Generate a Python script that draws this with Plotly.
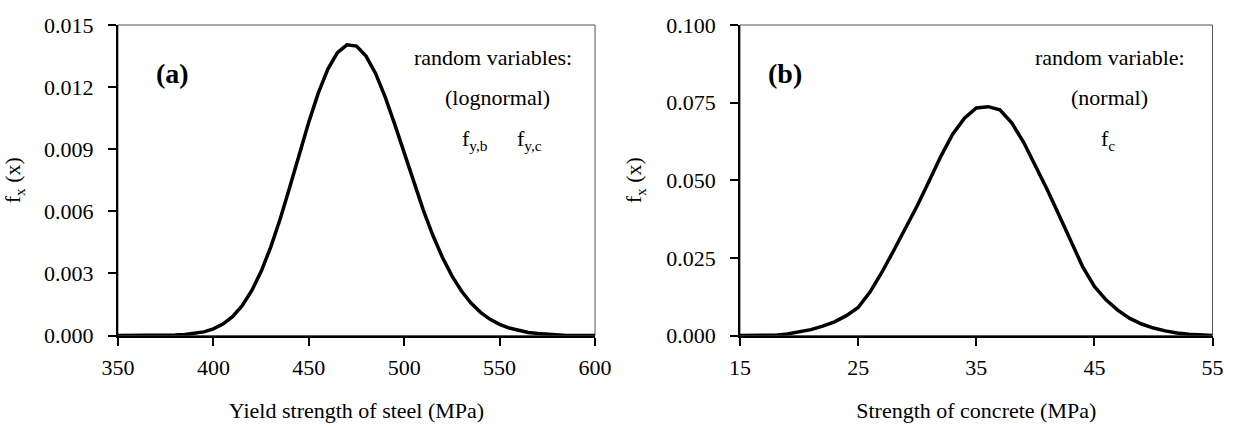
import plotly.graph_objects as go

# ---- data ----
steel_x = [350, 355, 360, 365, 370, 375, 380, 385, 390, 395, 400, 405, 410, 415, 420, 425,
           430, 435, 440, 445, 450, 455, 460, 465, 470, 475, 480, 485, 490, 495, 500, 505,
           510, 515, 520, 525, 530, 535, 540, 545, 550, 555, 560, 565, 570, 575, 580, 585,
           590, 595, 600]
steel_f = [0.0, 0.0, 0.0, 0.0, 0.0, 0.0, 0.00002, 0.000045, 0.00009, 0.000175, 0.00032,
           0.00055, 0.00091, 0.00143, 0.00215, 0.00309, 0.00426, 0.00563, 0.00716, 0.00875,
           0.01031, 0.01172, 0.01287, 0.01366, 0.01404, 0.01398, 0.01350, 0.01266, 0.01153,
           0.01021, 0.00881, 0.00740, 0.00606, 0.00484, 0.00378, 0.00288, 0.00215, 0.00157,
           0.00112, 0.00078, 0.00054, 0.00036, 0.00024, 0.00015, 0.0001, 0.00006, 0.00003,
           0.0, 0.0, 0.0, 0.0]

concrete_x = list(range(15, 56))
concrete_f = [0.0, 0.0, 0.0, 0.0001, 0.0005, 0.0012, 0.0019, 0.0030, 0.0044, 0.0064,
              0.0090, 0.0140, 0.0203, 0.0273, 0.0345, 0.0418, 0.0497, 0.0577, 0.0648, 0.0700,
              0.0733, 0.0737, 0.0727, 0.0685, 0.0623, 0.0548, 0.0470, 0.0388, 0.0303, 0.0222,
              0.0158, 0.0114, 0.0081, 0.0055, 0.0037, 0.0024, 0.0015, 0.0008, 0.0004, 0.0001,
              0.0]

steel_ticks = [350, 400, 450, 500, 550, 600]
steel_yticks = [0.000, 0.003, 0.006, 0.009, 0.012, 0.015]
concrete_ticks = [15, 25, 35, 45, 55]
concrete_yticks = [0.000, 0.025, 0.050, 0.075, 0.100]

FONT = "Liberation Serif"

fig = go.Figure()
fig.add_trace(go.Scatter(x=steel_x, y=steel_f, mode="lines",
                         line=dict(color="black", width=3.5), xaxis="x", yaxis="y",
                         showlegend=False, hoverinfo="skip"))
fig.add_trace(go.Scatter(x=concrete_x, y=concrete_f, mode="lines",
                         line=dict(color="black", width=3.5), xaxis="x2", yaxis="y2",
                         showlegend=False, hoverinfo="skip"))

ydom = [0.2161, 0.9416]
common_x = dict(showgrid=False, zeroline=False, showline=True, linecolor="black", linewidth=2,
                ticks="outside", ticklen=8, tickwidth=1.5, tickcolor="black",
                tickfont=dict(family=FONT, size=22, color="black"),
                ticklabelstandoff=3, automargin=False)
common_y = dict(showgrid=False, zeroline=False, showline=True, linecolor="black", linewidth=2,
                ticks="outside", ticklen=8, tickwidth=1.5, tickcolor="black",
                tickfont=dict(family=FONT, size=22, color="black"),
                ticklabelstandoff=10, tickformat=".3f", automargin=False)

fig.update_layout(
    width=1234, height=428,
    margin=dict(l=0, r=0, t=0, b=0, autoexpand=False),
    paper_bgcolor="white", plot_bgcolor="white",
    font=dict(family=FONT, size=22, color="black"),
    xaxis=dict(domain=[0.0956, 0.4822], range=[350, 600], tickvals=steel_ticks,
               anchor="y",
               title=dict(text="Yield strength of steel (MPa)", standoff=24,
                          font=dict(family=FONT, size=22)), **common_x),
    yaxis=dict(domain=ydom, range=[0, 0.015], tickvals=steel_yticks, anchor="x",
               title=dict(text="f<sub>x</sub> (x)", standoff=18,
                          font=dict(family=FONT, size=22)), **common_y),
    xaxis2=dict(domain=[0.5997, 0.9826], range=[15, 55], tickvals=concrete_ticks,
                anchor="y2",
                title=dict(text="Strength of concrete (MPa)", standoff=24,
                           font=dict(family=FONT, size=22)), **common_x),
    yaxis2=dict(domain=ydom, range=[0, 0.1], tickvals=concrete_yticks, anchor="x2",
                title=dict(text="f<sub>x</sub> (x)", standoff=18,
                           font=dict(family=FONT, size=22)), **common_y),
)

# thin grey box around each plot area
for xr, yr in (("x domain", "y domain"), ("x2 domain", "y2 domain")):
    fig.add_shape(type="rect", xref=xr, yref=yr, x0=0, x1=1, y0=0, y1=1,
                  line=dict(color="#555555", width=1), layer="below")

ann = []
def add(text, xref, yref, x, y, size=22, bold=False):
    ann.append(dict(text=f"<b>{text}</b>" if bold else text, xref=xref, yref=yref,
                    x=x, y=y, showarrow=False, xanchor="center", yanchor="middle",
                    font=dict(family=FONT, size=size, color="black")))

add("(a)", "x domain", "y domain", 0.114, 0.843, size=28, bold=True)
add("random variables:", "x domain", "y domain", 0.786, 0.894)
add("(lognormal)", "x domain", "y domain", 0.795, 0.768)
add("f<sub>y,b</sub>", "x domain", "y domain", 0.749, 0.63)
add("f<sub>y,c</sub>", "x domain", "y domain", 0.863, 0.63)

add("(b)", "x2 domain", "y2 domain", 0.095, 0.843, size=28, bold=True)
add("random variable:", "x2 domain", "y2 domain", 0.783, 0.894)
add("(normal)", "x2 domain", "y2 domain", 0.783, 0.768)
add("f<sub>c</sub>", "x2 domain", "y2 domain", 0.778, 0.63)

fig.update_layout(annotations=ann)

fig.write_html("out.html")
